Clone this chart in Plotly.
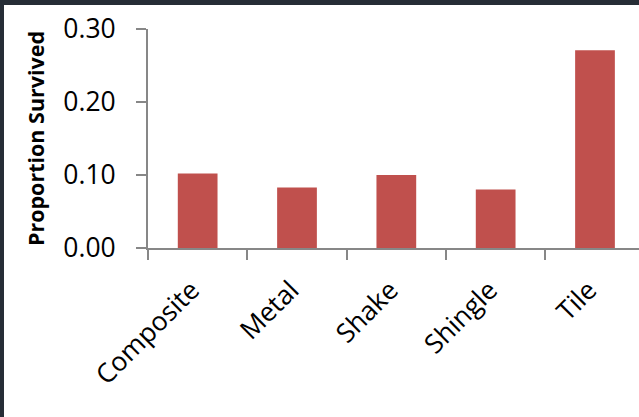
import plotly.graph_objects as go

# Survival proportion by roof material
roof_types = ["Composite", "Metal", "Shake", "Shingle", "Tile"]
proportion_survived = [0.102, 0.083, 0.100, 0.080, 0.271]
y_tick_values = [0.0, 0.1, 0.2, 0.3]
y_tick_labels = ["0.00", "0.10", "0.20", "0.30"]

W, H = 639, 417
left, top, bottom = 148, 29, 169
plot_w = W - left
plot_h = H - top - bottom

bar_color = "#C0504D"
axis_color = "#878787"
frame_color = "#262D36"
font_family = "Open Sans, Liberation Sans, Arial, sans-serif"

fig = go.Figure(
    go.Bar(
        x=roof_types,
        y=proportion_survived,
        marker=dict(color=bar_color, line=dict(width=0)),
        width=0.4,
    )
)

fig.update_layout(
    width=W,
    height=H,
    margin=dict(l=left, r=0, t=top, b=bottom, pad=0),
    paper_bgcolor="white",
    plot_bgcolor="white",
    showlegend=False,
    font=dict(family=font_family, color="black"),
)

fig.update_xaxes(
    range=[-0.5, 4.443],
    showgrid=False,
    showline=True,
    linecolor=axis_color,
    linewidth=2,
    ticks="outside",
    ticklen=10,
    tickwidth=2,
    tickcolor=axis_color,
    tickson="boundaries",
    tickangle=-45,
    tickfont=dict(size=26.5, family=font_family),
    ticklabelstandoff=14,
    ticklabelshift=-6,
    zeroline=False,
)

fig.update_yaxes(
    range=[0, 0.30],
    tickvals=y_tick_values,
    ticktext=y_tick_labels,
    showgrid=False,
    showline=True,
    linecolor=axis_color,
    linewidth=2,
    ticks="outside",
    ticklen=10,
    tickwidth=2,
    tickcolor=axis_color,
    tickfont=dict(size=26.5, family=font_family),
    ticklabelstandoff=15,
    zeroline=False,
    title=dict(
        text="<b>Proportion Survived</b>",
        font=dict(size=21.5, family=font_family),
        standoff=13,
    ),
)

# Dark frame strips along the top and left edges of the page
def px_to_paper_x(px):
    return (px - left) / plot_w

def px_to_paper_y(py):
    return (H - bottom - py) / plot_h

fig.add_shape(type="rect", xref="paper", yref="paper",
              x0=px_to_paper_x(0), x1=px_to_paper_x(4),
              y0=px_to_paper_y(H), y1=px_to_paper_y(0),
              fillcolor=frame_color, line=dict(width=0), layer="above")
fig.add_shape(type="rect", xref="paper", yref="paper",
              x0=px_to_paper_x(0), x1=px_to_paper_x(W),
              y0=px_to_paper_y(5), y1=px_to_paper_y(0),
              fillcolor=frame_color, line=dict(width=0), layer="above")

fig.write_html("out.html")
